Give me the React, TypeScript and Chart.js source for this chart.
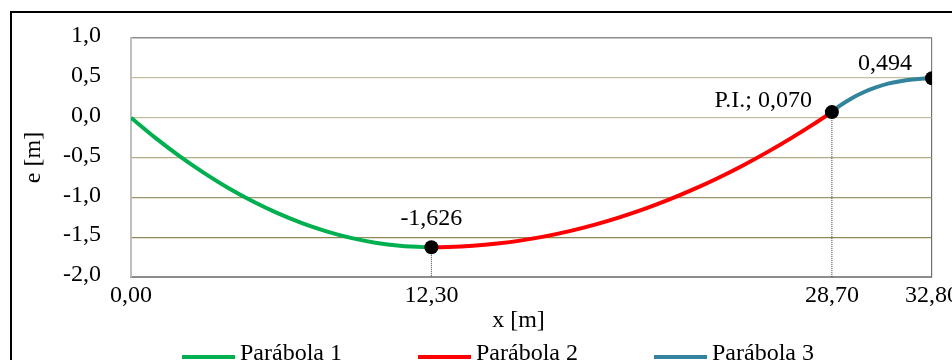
import { useEffect, useRef } from "react";
import { Chart, registerables } from "chart.js";

Chart.register(...registerables);

const FONT_FAMILY = "'Liberation Serif', 'Times New Roman', serif";
const FONT_SIZE = 24;

// Parábola 1 — x [m] / e [m]
const p1X = [0, 1, 2, 3, 4, 5, 6, 7, 8, 9, 10, 11, 12, 12.3];
const p1E = [0, -0.254, -0.486, -0.696, -0.886, -1.053, -1.199, -1.324, -1.427, -1.509, -1.569, -1.608, -1.625, -1.626];

// Parábola 2
const p2X = [12.3, 13, 14, 15, 16, 17, 18, 19, 20, 21, 22, 23, 24, 25, 26, 27, 28, 28.7];
const p2E = [-1.626, -1.623, -1.608, -1.58, -1.54, -1.487, -1.421, -1.343, -1.252, -1.149, -1.033, -0.904, -0.763, -0.609, -0.442, -0.263, -0.072, 0.07];

// Parábola 3
const p3X = [28.7, 29, 29.5, 30, 30.5, 31, 31.5, 32, 32.5, 32.8];
const p3E = [0.07, 0.145, 0.242, 0.319, 0.379, 0.427, 0.458, 0.479, 0.491, 0.494];

// Key points (vertex, P.I., end)
const keyX = [12.3, 28.7, 32.8];
const keyE = [-1.626, 0.07, 0.494];
const keyPrefix = ["", "P.I.; ", ""];

const seriesNames = ["Parábola 1", "Parábola 2", "Parábola 3"];
const seriesColors = ["#00b050", "#ff0000", "#31849b"];

const xTicks = [0, 12.3, 28.7, 32.8];
const yMin = -2;
const yMax = 1;
const yStep = 0.5;

const xTitle = "x [m]";
const yTitle = "e [m]";

const comma = (v: number, d: number) => v.toFixed(d).replace(".", ",");
const toPts = (xs: number[], ys: number[]) => xs.map((x, i) => ({ x, y: ys[i] }));

// label placement around each key point: [dx, dy, align]
const labelPlacement: [number, number, CanvasTextAlign][] = [
  [0, -29, "center"],
  [-20, -11, "right"],
  [-20, -15, "right"],
];

const yGridColors = ["#8c8c8c", "#8f8758", "#9d9567", "#b2aa85", "#c6bd9e", "#c6bd9e", "#8c8c8c"];

const decorPlugin = {
  id: "decor",
  beforeDraw(chart: any) {
    const { ctx } = chart;
    ctx.save();
    ctx.strokeStyle = "#000";
    ctx.lineWidth = 2;
    ctx.strokeRect(11, 12, chart.width - 22, chart.height - 24);
    ctx.restore();
  },
  afterDraw(chart: any) {
    const { ctx, chartArea } = chart;
    const font = `${FONT_SIZE}px ${FONT_FAMILY}`;
    ctx.save();
    ctx.font = font;
    ctx.fillStyle = "#000";

    // value labels at the key points
    const keyIdx = chart.data.datasets.findIndex((d: any) => d.label === "keys");
    const meta = chart.getDatasetMeta(keyIdx);
    meta.data.forEach((pt: any, i: number) => {
      const [dx, dy, align] = labelPlacement[i];
      ctx.textAlign = align;
      ctx.textBaseline = "middle";
      ctx.fillText(keyPrefix[i] + comma(keyE[i], 3), pt.x + dx, pt.y + dy);
    });

    // x axis caption
    ctx.textAlign = "center";
    ctx.textBaseline = "middle";
    ctx.fillText(xTitle, (chartArea.left + chartArea.right) / 2 - 13, 321);

    // legend row
    const stride = 236;
    const sample = 53;
    const gap = 5;
    const lastW = ctx.measureText(seriesNames[seriesNames.length - 1]).width;
    const total = stride * (seriesNames.length - 1) + sample + gap + lastW;
    const startX = chart.width / 2 - total / 2;
    seriesNames.forEach((name, i) => {
      const x0 = startX + i * stride;
      ctx.fillStyle = seriesColors[i];
      ctx.fillRect(x0, 355, sample, 4);
      ctx.fillStyle = "#000";
      ctx.textAlign = "left";
      ctx.textBaseline = "alphabetic";
      ctx.fillText(name, x0 + sample + gap, 360);
    });
    ctx.restore();
  },
};

export default function App() {
  const ref = useRef<HTMLCanvasElement | null>(null);

  useEffect(() => {
    if (!ref.current) return;
    const curves = [toPts(p1X, p1E), toPts(p2X, p2E), toPts(p3X, p3E)].map((data, i) => ({
      label: seriesNames[i],
      data,
      showLine: true,
      borderColor: seriesColors[i],
      backgroundColor: seriesColors[i],
      borderWidth: 4,
      pointRadius: 0,
      cubicInterpolationMode: "monotone" as const,
      order: 1,
    }));
    const guides = keyX.map((x, i) => ({
      label: "guide",
      data: [
        { x, y: keyE[i] },
        { x, y: yMin },
      ],
      showLine: true,
      borderColor: "#3a3a3a",
      borderWidth: 1,
      borderDash: [1, 1],
      pointRadius: 0,
      order: 2,
    }));
    const keys = {
      label: "keys",
      data: toPts(keyX, keyE),
      showLine: false,
      pointRadius: 7,
      pointBackgroundColor: "#000",
      pointBorderWidth: 0,
      order: 0,
    };

    const chart = new Chart(ref.current, {
      type: "scatter",
      data: { datasets: [keys, ...curves, ...guides] as any },
      options: {
        responsive: false,
        animation: false,
        events: [],
        layout: { padding: { left: 10, top: 38, right: 64, bottom: 63 } },
        plugins: { legend: { display: false }, tooltip: { enabled: false } },
        scales: {
          x: {
            type: "linear",
            min: 0,
            max: 32.8,
            afterBuildTicks: (s: any) => {
              s.ticks = xTicks.map((value) => ({ value }));
            },
            afterFit: (s: any) => {
              s.height = 60;
            },
            ticks: {
              autoSkip: false,
              maxRotation: 0,
              padding: 4,
              color: "#000",
              font: { family: FONT_FAMILY, size: FONT_SIZE },
              callback: (v: any) => comma(Number(v), 2),
            },
            grid: {
              drawTicks: false,
              color: (c: any) => (c.tick && Math.abs(c.tick.value - 32.8) < 1e-6 ? "#7f7f7f" : "rgba(0,0,0,0)"),
              lineWidth: 1.2,
            },
            border: { display: true, color: "#8c8c8c", width: 2 },
          },
          y: {
            type: "linear",
            min: yMin,
            max: yMax,
            afterFit: (s: any) => {
              s.width = 121;
            },
            ticks: {
              stepSize: yStep,
              padding: 2,
              labelOffset: -2,
              color: "#000",
              font: { family: FONT_FAMILY, size: FONT_SIZE },
              callback: (v: any) => comma(Number(v), 1),
            },
            grid: {
              drawTicks: true,
              tickLength: 28,
              tickColor: "rgba(0,0,0,0)",
              color: (c: any) => yGridColors[c.index] ?? "#c6bd9e",
              lineWidth: (c: any) => (c.index === 6 ? 1.5 : 1.3),
            },
            border: { display: true, color: "#bfbfbf", width: 2 },
            title: {
              display: true,
              text: yTitle,
              color: "#000",
              padding: { top: 9, bottom: 0 },
              font: { family: FONT_FAMILY, size: FONT_SIZE },
            },
          },
        },
      },
      plugins: [decorPlugin],
    });
    return () => chart.destroy();
  }, []);

  return (
    <div style={{ position: "absolute", left: 0, top: 0, width: 952, height: 360, overflow: "hidden", background: "#fff" }}>
      <canvas ref={ref} width={996} height={400} style={{ display: "block" }} />
    </div>
  );
}
